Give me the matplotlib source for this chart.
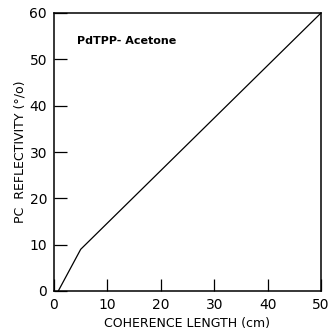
import matplotlib
matplotlib.use('Agg')
import matplotlib.pyplot as plt

# coherence length (cm) vs PC reflectivity (%)
length = [0.8, 5.0, 50.0]
reflectivity = [0.0, 9.0, 60.0]
xticks = [0, 10, 20, 30, 40, 50]
yticks = [0, 10, 20, 30, 40, 50, 60]

plt.rcParams['font.family'] = ['DejaVu Sans']
fig = plt.figure(figsize=(3.32, 3.31), dpi=100)
ax = fig.add_axes([54 / 332, 40 / 331, 267 / 332, 278 / 331])

ax.plot(length, reflectivity, color='black', lw=0.9)
ax.set_xlim(0, 50)
ax.set_ylim(0, 60)
ax.set_xticks(xticks)
ax.set_yticks(yticks)
ax.tick_params(direction='in', length=9, width=0.9, labelsize=10, pad=5)
for s in ax.spines.values():
    s.set_linewidth(1.1)

ax.set_xlabel('COHERENCE LENGTH (cm)', fontsize=9, labelpad=4)
ax.set_ylabel('PC  REFLECTIVITY (°/o)', fontsize=9, labelpad=2)
ax.text(0.085, 0.9, 'PdTPP- Acetone', transform=ax.transAxes, fontsize=8,
        fontweight='bold', va='center')

fig.savefig('out.png', dpi=100)
